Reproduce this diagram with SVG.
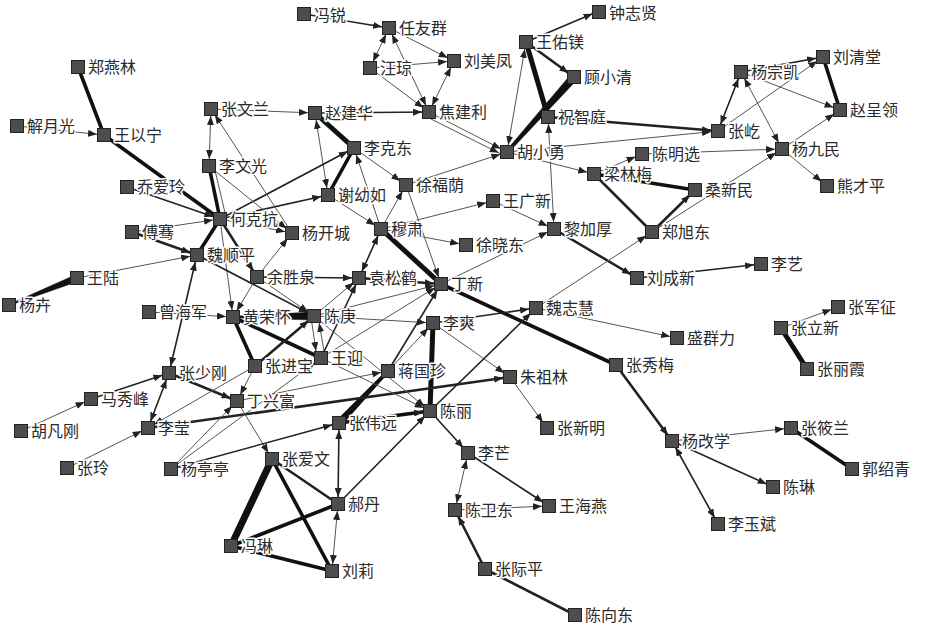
<svg xmlns="http://www.w3.org/2000/svg" width="928" height="627" viewBox="0 0 928 627">
<defs>
<marker id="a" markerUnits="userSpaceOnUse" markerWidth="9" markerHeight="7" viewBox="0 0 9 7" refX="16" refY="3.5" orient="auto-start-reverse"><path d="M0,0L9,3.5L0,7z" fill="#222"/></marker>
</defs>
<style>
.e line{stroke:#222;stroke-linecap:round}
.e polygon{fill:#111;stroke:#111;stroke-width:0.5}
.e1{stroke-width:1;stroke:#555!important}
.e2{stroke-width:1.6}
.e3{stroke-width:2.6}
.e4{stroke-width:3.6;stroke:#111!important}
.e5{stroke-width:5;stroke:#111!important}
.e6{stroke-width:7;stroke:#111!important}
.n rect{fill:#4d4d4d;stroke:#222;stroke-width:1}
.n text{font-family:"Noto Sans CJK SC","Noto Sans CJK TC",sans-serif;font-size:16px;fill:#2a2a2a;stroke:#fff;stroke-width:3px;paint-order:stroke;stroke-linejoin:round}
</style>
<rect width="928" height="627" fill="#fff"/>
<g id="connectors" class="e">
<line class="e2" x1="304" y1="14" x2="389" y2="28" marker-end="url(#a)"/>
<line class="e1" x1="370" y1="68" x2="389" y2="28" marker-start="url(#a)" marker-end="url(#a)"/>
<line class="e1" x1="389" y1="28" x2="454" y2="61" marker-end="url(#a)"/>
<line class="e1" x1="389" y1="28" x2="429" y2="112" marker-start="url(#a)" marker-end="url(#a)"/>
<line class="e1" x1="370" y1="68" x2="454" y2="61" marker-end="url(#a)"/>
<line class="e1" x1="370" y1="68" x2="429" y2="112" marker-end="url(#a)"/>
<line class="e1" x1="429" y1="112" x2="454" y2="61" marker-start="url(#a)" marker-end="url(#a)"/>
<line class="e2" x1="315" y1="113" x2="429" y2="112" marker-end="url(#a)"/>
<line class="e1" x1="429" y1="112" x2="507" y2="152" marker-end="url(#a)"/>
<line class="e1" x1="431" y1="119" x2="505" y2="156" marker-end="url(#a)"/>
<line class="e1" x1="507" y1="152" x2="526" y2="42" marker-start="url(#a)" marker-end="url(#a)"/>
<line class="e2" x1="526" y1="42" x2="599" y2="11" marker-end="url(#a)"/>
<line class="e5" x1="526" y1="42" x2="548" y2="117"/>
<line class="e3" x1="526" y1="42" x2="574" y2="77" marker-end="url(#a)"/>
<polygon points="577,79.7 508.1,153 505.9,151 571,74.3"/>
<line class="e3" x1="548" y1="117" x2="718" y2="131" marker-end="url(#a)"/>
<line class="e1" x1="507" y1="152" x2="718" y2="131" marker-end="url(#a)"/>
<line class="e1" x1="554" y1="229" x2="548" y2="117" marker-start="url(#a)" marker-end="url(#a)"/>
<line class="e1" x1="507" y1="152" x2="594" y2="174" marker-end="url(#a)"/>
<line class="e1" x1="406" y1="185" x2="507" y2="152" marker-end="url(#a)"/>
<line class="e5" x1="315" y1="113" x2="354" y2="148"/>
<line class="e1" x1="315" y1="113" x2="328" y2="195" marker-start="url(#a)" marker-end="url(#a)"/>
<line class="e1" x1="211" y1="109" x2="315" y2="113" marker-end="url(#a)"/>
<line class="e4" x1="328" y1="195" x2="354" y2="148"/>
<line class="e2" x1="220" y1="219" x2="354" y2="148" marker-end="url(#a)"/>
<line class="e2" x1="220" y1="219" x2="328" y2="195" marker-end="url(#a)"/>
<line class="e1" x1="354" y1="148" x2="406" y2="185" marker-end="url(#a)"/>
<line class="e1" x1="381" y1="229" x2="354" y2="148" marker-end="url(#a)"/>
<line class="e1" x1="328" y1="195" x2="381" y2="229" marker-end="url(#a)"/>
<line class="e1" x1="381" y1="229" x2="406" y2="185" marker-end="url(#a)"/>
<line class="e1" x1="406" y1="185" x2="441" y2="284" marker-end="url(#a)"/>
<line class="e5" x1="381" y1="229" x2="441" y2="284"/>
<line class="e1" x1="381" y1="229" x2="493" y2="201" marker-end="url(#a)"/>
<line class="e1" x1="381" y1="229" x2="466" y2="245" marker-end="url(#a)"/>
<line class="e1" x1="493" y1="201" x2="554" y2="229" marker-end="url(#a)"/>
<line class="e1" x1="441" y1="284" x2="554" y2="229" marker-end="url(#a)"/>
<line class="e3" x1="554" y1="229" x2="637" y2="278" marker-end="url(#a)"/>
<line class="e3" x1="594" y1="174" x2="652" y2="232"/>
<line class="e3" x1="652" y1="232" x2="695" y2="190" marker-end="url(#a)"/>
<line class="e1" x1="652" y1="232" x2="782" y2="149" marker-end="url(#a)"/>
<line class="e1" x1="536" y1="308" x2="652" y2="232" marker-end="url(#a)"/>
<line class="e4" x1="594" y1="174" x2="695" y2="190"/>
<line class="e1" x1="642" y1="154" x2="782" y2="149" marker-end="url(#a)"/>
<line class="e1" x1="594" y1="174" x2="642" y2="154" marker-end="url(#a)"/>
<line class="e2" x1="718" y1="131" x2="741" y2="72" marker-start="url(#a)" marker-end="url(#a)"/>
<line class="e1" x1="741" y1="72" x2="782" y2="149" marker-start="url(#a)" marker-end="url(#a)"/>
<line class="e1" x1="741" y1="72" x2="840" y2="110" marker-end="url(#a)"/>
<line class="e1" x1="718" y1="131" x2="823" y2="57" marker-end="url(#a)"/>
<line class="e2" x1="741" y1="72" x2="823" y2="57" marker-end="url(#a)"/>
<line class="e4" x1="823" y1="57" x2="840" y2="110"/>
<line class="e1" x1="782" y1="149" x2="840" y2="110" marker-end="url(#a)"/>
<line class="e1" x1="782" y1="149" x2="827" y2="186" marker-end="url(#a)"/>
<line class="e4" x1="78" y1="67" x2="104" y2="135"/>
<line class="e1" x1="17" y1="126" x2="104" y2="135" marker-end="url(#a)"/>
<line class="e4" x1="104" y1="135" x2="220" y2="219"/>
<line class="e2" x1="127" y1="187" x2="220" y2="219" marker-end="url(#a)"/>
<line class="e1" x1="211" y1="109" x2="209" y2="166" marker-start="url(#a)" marker-end="url(#a)"/>
<line class="e1" x1="292" y1="233" x2="211" y2="109" marker-end="url(#a)"/>
<line class="e4" x1="209" y1="166" x2="220" y2="219"/>
<line class="e1" x1="214" y1="166" x2="226" y2="217"/>
<line class="e1" x1="209" y1="166" x2="292" y2="233" marker-end="url(#a)"/>
<line class="e4" x1="220" y1="219" x2="197" y2="255"/>
<line class="e3" x1="220" y1="219" x2="257" y2="277" marker-end="url(#a)"/>
<line class="e1" x1="220" y1="219" x2="292" y2="233" marker-end="url(#a)"/>
<line class="e1" x1="257" y1="277" x2="292" y2="233" marker-end="url(#a)"/>
<line class="e1" x1="220" y1="219" x2="233" y2="317" marker-end="url(#a)"/>
<line class="e1" x1="132" y1="232" x2="220" y2="219" marker-end="url(#a)"/>
<line class="e3" x1="132" y1="232" x2="197" y2="255" marker-end="url(#a)"/>
<line class="e1" x1="77" y1="278" x2="197" y2="255" marker-end="url(#a)"/>
<polygon points="9.2,305.5 78.3,281.3 75.7,274.7 8.8,304.5"/>
<line class="e2" x1="197" y1="255" x2="169" y2="373" marker-start="url(#a)" marker-end="url(#a)"/>
<line class="e2" x1="197" y1="255" x2="314" y2="316" marker-end="url(#a)"/>
<line class="e1" x1="149" y1="312" x2="233" y2="317" marker-end="url(#a)"/>
<line class="e1" x1="257" y1="277" x2="233" y2="317" marker-end="url(#a)"/>
<line class="e2" x1="257" y1="277" x2="359" y2="278" marker-end="url(#a)"/>
<line class="e1" x1="257" y1="277" x2="314" y2="316" marker-end="url(#a)"/>
<polygon points="233,317.8 314,320 314,312 233,316.2"/>
<line class="e4" x1="233" y1="317" x2="255" y2="366"/>
<line class="e4" x1="233" y1="317" x2="321" y2="358"/>
<line class="e3" x1="255" y1="366" x2="314" y2="316" marker-end="url(#a)"/>
<line class="e1" x1="311" y1="317" x2="317" y2="358" marker-end="url(#a)"/>
<line class="e1" x1="325" y1="357" x2="318" y2="316" marker-end="url(#a)"/>
<line class="e2" x1="321" y1="358" x2="359" y2="278" marker-end="url(#a)"/>
<line class="e1" x1="314" y1="316" x2="359" y2="278" marker-end="url(#a)"/>
<line class="e2" x1="359" y1="278" x2="381" y2="229" marker-start="url(#a)" marker-end="url(#a)"/>
<line class="e3" x1="359" y1="278" x2="441" y2="284" marker-end="url(#a)"/>
<line class="e1" x1="314" y1="316" x2="441" y2="284" marker-end="url(#a)"/>
<line class="e1" x1="321" y1="358" x2="441" y2="284" marker-end="url(#a)"/>
<line class="e1" x1="314" y1="316" x2="433" y2="323" marker-end="url(#a)"/>
<line class="e2" x1="388" y1="371" x2="441" y2="284" marker-end="url(#a)"/>
<line class="e4" x1="441" y1="284" x2="616" y2="365"/>
<line class="e5" x1="433" y1="323" x2="430" y2="411"/>
<line class="e2" x1="433" y1="323" x2="536" y2="308" marker-end="url(#a)"/>
<line class="e1" x1="433" y1="323" x2="510" y2="377" marker-end="url(#a)"/>
<line class="e1" x1="388" y1="371" x2="433" y2="323" marker-end="url(#a)"/>
<line class="e2" x1="430" y1="411" x2="536" y2="308" marker-end="url(#a)"/>
<line class="e1" x1="536" y1="308" x2="677" y2="338" marker-end="url(#a)"/>
<polygon points="389.1,372 341.5,425.4 336.5,420.6 386.9,370"/>
<line class="e4" x1="339" y1="423" x2="430" y2="411" marker-end="url(#a)"/>
<line class="e2" x1="338" y1="504" x2="430" y2="411" marker-end="url(#a)"/>
<line class="e2" x1="339" y1="423" x2="338" y2="504" marker-start="url(#a)" marker-end="url(#a)"/>
<line class="e1" x1="338" y1="504" x2="332" y2="571" marker-start="url(#a)" marker-end="url(#a)"/>
<line class="e3" x1="272" y1="459" x2="338" y2="504"/>
<line class="e4" x1="272" y1="459" x2="332" y2="571"/>
<line class="e6" x1="272" y1="459" x2="231" y2="546"/>
<line class="e4" x1="338" y1="504" x2="231" y2="546"/>
<line class="e4" x1="231" y1="546" x2="332" y2="571"/>
<line class="e1" x1="237" y1="401" x2="272" y2="459" marker-end="url(#a)"/>
<line class="e2" x1="171" y1="469" x2="339" y2="423" marker-start="url(#a)" marker-end="url(#a)"/>
<line class="e3" x1="148" y1="428" x2="510" y2="377" marker-end="url(#a)"/>
<line class="e1" x1="237" y1="401" x2="388" y2="371" marker-end="url(#a)"/>
<line class="e3" x1="169" y1="373" x2="237" y2="401" marker-end="url(#a)"/>
<line class="e2" x1="91" y1="399" x2="169" y2="373" marker-end="url(#a)"/>
<line class="e1" x1="21" y1="431" x2="91" y2="399" marker-end="url(#a)"/>
<line class="e2" x1="169" y1="373" x2="148" y2="428" marker-start="url(#a)" marker-end="url(#a)"/>
<line class="e1" x1="67" y1="468" x2="148" y2="428" marker-end="url(#a)"/>
<line class="e1" x1="171" y1="469" x2="237" y2="401" marker-end="url(#a)"/>
<line class="e1" x1="171" y1="469" x2="321" y2="358" marker-end="url(#a)"/>
<line class="e1" x1="255" y1="366" x2="148" y2="428" marker-end="url(#a)"/>
<line class="e1" x1="255" y1="366" x2="237" y2="401" marker-end="url(#a)"/>
<line class="e1" x1="321" y1="358" x2="430" y2="411" marker-end="url(#a)"/>
<line class="e1" x1="314" y1="316" x2="430" y2="411" marker-end="url(#a)"/>
<line class="e2" x1="430" y1="411" x2="468" y2="453" marker-end="url(#a)"/>
<line class="e1" x1="455" y1="510" x2="468" y2="453" marker-start="url(#a)" marker-end="url(#a)"/>
<line class="e2" x1="468" y1="453" x2="549" y2="506" marker-end="url(#a)"/>
<line class="e1" x1="455" y1="510" x2="549" y2="506" marker-end="url(#a)"/>
<line class="e3" x1="485" y1="569" x2="455" y2="510" marker-end="url(#a)"/>
<line class="e3" x1="485" y1="569" x2="575" y2="615"/>
<line class="e1" x1="510" y1="377" x2="547" y2="428" marker-end="url(#a)"/>
<line class="e3" x1="616" y1="365" x2="672" y2="441" marker-end="url(#a)"/>
<line class="e1" x1="672" y1="441" x2="791" y2="428" marker-end="url(#a)"/>
<line class="e2" x1="672" y1="441" x2="773" y2="487" marker-end="url(#a)"/>
<line class="e2" x1="672" y1="441" x2="718" y2="524" marker-start="url(#a)" marker-end="url(#a)"/>
<line class="e4" x1="791" y1="428" x2="852" y2="469"/>
<line class="e1" x1="781" y1="328" x2="838" y2="307" marker-end="url(#a)"/>
<line class="e5" x1="781" y1="328" x2="807" y2="369"/>
<line class="e2" x1="637" y1="278" x2="761" y2="264" marker-end="url(#a)"/>
</g>
<g class="n">
<g id="n-fengrui"><rect x="297.5" y="7.5" width="13" height="13"/><text x="314" y="21">冯锐</text></g>
<g id="n-renyouqun"><rect x="382.5" y="21.5" width="13" height="13"/><text x="399" y="34">任友群</text></g>
<g id="n-zhongzhixian"><rect x="592.5" y="5.5" width="13" height="13"/><text x="609" y="19">钟志贤</text></g>
<g id="n-wangqiong"><rect x="363.5" y="61.5" width="13" height="13"/><text x="380" y="74">汪琼</text></g>
<g id="n-liumeifeng"><rect x="447.5" y="54.5" width="13" height="13"/><text x="464" y="67">刘美凤</text></g>
<g id="n-wangyoumei"><rect x="519.5" y="35.5" width="13" height="13"/><text x="536" y="48">王佑镁</text></g>
<g id="n-guxiaoqing"><rect x="567.5" y="70.5" width="13" height="13"/><text x="584" y="83">顾小清</text></g>
<g id="n-zhengyanlin"><rect x="71.5" y="60.5" width="13" height="13"/><text x="88" y="73">郑燕林</text></g>
<g id="n-yangzongkai"><rect x="734.5" y="65.5" width="13" height="13"/><text x="751" y="78">杨宗凯</text></g>
<g id="n-liuqingtang"><rect x="816.5" y="50.5" width="13" height="13"/><text x="833" y="63">刘清堂</text></g>
<g id="n-zhaochengling"><rect x="833.5" y="103.5" width="13" height="13"/><text x="850" y="116">赵呈领</text></g>
<g id="n-xieyueguang"><rect x="10.5" y="119.5" width="13" height="13"/><text x="27" y="132">解月光</text></g>
<g id="n-wangyining"><rect x="97.5" y="128.5" width="13" height="13"/><text x="114" y="141">王以宁</text></g>
<g id="n-zhangwenlan"><rect x="204.5" y="102.5" width="13" height="13"/><text x="221" y="115">张文兰</text></g>
<g id="n-zhaojianhua"><rect x="308.5" y="106.5" width="13" height="13"/><text x="325" y="119">赵建华</text></g>
<g id="n-jiaojianli"><rect x="422.5" y="105.5" width="13" height="13"/><text x="439" y="118">焦建利</text></g>
<g id="n-zhuzhiting"><rect x="541.5" y="110.5" width="13" height="13"/><text x="558" y="123">祝智庭</text></g>
<g id="n-huxiaoyong"><rect x="500.5" y="145.5" width="13" height="13"/><text x="517" y="158">胡小勇</text></g>
<g id="n-zhangyi"><rect x="711.5" y="124.5" width="13" height="13"/><text x="728" y="137">张屹</text></g>
<g id="n-likedong"><rect x="347.5" y="141.5" width="13" height="13"/><text x="364" y="154">李克东</text></g>
<g id="n-yangjiumin"><rect x="775.5" y="142.5" width="13" height="13"/><text x="792" y="155">杨九民</text></g>
<g id="n-chenmingxuan"><rect x="635.5" y="147.5" width="13" height="13"/><text x="652" y="160">陈明选</text></g>
<g id="n-liwenguang"><rect x="202.5" y="159.5" width="13" height="13"/><text x="219" y="172">李文光</text></g>
<g id="n-lianglinmei"><rect x="587.5" y="167.5" width="13" height="13"/><text x="604" y="180">梁林梅</text></g>
<g id="n-sangxinmin"><rect x="688.5" y="183.5" width="13" height="13"/><text x="705" y="196">桑新民</text></g>
<g id="n-xiongcaiping"><rect x="820.5" y="179.5" width="13" height="13"/><text x="837" y="192">熊才平</text></g>
<g id="n-qiaoailing"><rect x="120.5" y="180.5" width="13" height="13"/><text x="137" y="193">乔爱玲</text></g>
<g id="n-xieyouru"><rect x="321.5" y="188.5" width="13" height="13"/><text x="338" y="201">谢幼如</text></g>
<g id="n-xufuyin"><rect x="399.5" y="178.5" width="13" height="13"/><text x="416" y="191">徐福荫</text></g>
<g id="n-hekekang"><rect x="213.5" y="212.5" width="13" height="13"/><text x="230" y="225">何克抗</text></g>
<g id="n-wangguangxin"><rect x="486.5" y="194.5" width="13" height="13"/><text x="503" y="207">王广新</text></g>
<g id="n-fuqian"><rect x="125.5" y="225.5" width="13" height="13"/><text x="142" y="238">傅骞</text></g>
<g id="n-yangkaicheng"><rect x="285.5" y="226.5" width="13" height="13"/><text x="302" y="239">杨开城</text></g>
<g id="n-musu"><rect x="374.5" y="222.5" width="13" height="13"/><text x="391" y="235">穆肃</text></g>
<g id="n-lijiahou"><rect x="547.5" y="222.5" width="13" height="13"/><text x="564" y="235">黎加厚</text></g>
<g id="n-zhengxudong"><rect x="645.5" y="225.5" width="13" height="13"/><text x="662" y="238">郑旭东</text></g>
<g id="n-weishunping"><rect x="190.5" y="248.5" width="13" height="13"/><text x="207" y="261">魏顺平</text></g>
<g id="n-xuxiaodong"><rect x="459.5" y="238.5" width="13" height="13"/><text x="476" y="251">徐晓东</text></g>
<g id="n-wanglu"><rect x="70.5" y="271.5" width="13" height="13"/><text x="87" y="284">王陆</text></g>
<g id="n-yushengquan"><rect x="250.5" y="270.5" width="13" height="13"/><text x="267" y="283">余胜泉</text></g>
<g id="n-yuansonghe"><rect x="352.5" y="271.5" width="13" height="13"/><text x="369" y="284">袁松鹤</text></g>
<g id="n-dingxin"><rect x="434.5" y="277.5" width="13" height="13"/><text x="451" y="290">丁新</text></g>
<g id="n-liuchengxin"><rect x="630.5" y="271.5" width="13" height="13"/><text x="647" y="284">刘成新</text></g>
<g id="n-liyi"><rect x="754.5" y="257.5" width="13" height="13"/><text x="771" y="270">李艺</text></g>
<g id="n-yanghui"><rect x="2.5" y="298.5" width="13" height="13"/><text x="19" y="311">杨卉</text></g>
<g id="n-zhangjunzheng"><rect x="831.5" y="300.5" width="13" height="13"/><text x="848" y="313">张军征</text></g>
<g id="n-zenghaijun"><rect x="142.5" y="305.5" width="13" height="13"/><text x="159" y="318">曾海军</text></g>
<g id="n-huangronghuai"><rect x="226.5" y="310.5" width="13" height="13"/><text x="243" y="323">黄荣怀</text></g>
<g id="n-chengeng"><rect x="307.5" y="309.5" width="13" height="13"/><text x="324" y="322">陈庚</text></g>
<g id="n-weizhihui"><rect x="529.5" y="301.5" width="13" height="13"/><text x="546" y="314">魏志慧</text></g>
<g id="n-lishuang"><rect x="426.5" y="316.5" width="13" height="13"/><text x="443" y="329">李爽</text></g>
<g id="n-zhanglixin"><rect x="774.5" y="321.5" width="13" height="13"/><text x="791" y="334">张立新</text></g>
<g id="n-shengqunli"><rect x="670.5" y="331.5" width="13" height="13"/><text x="687" y="344">盛群力</text></g>
<g id="n-wangying"><rect x="314.5" y="351.5" width="13" height="13"/><text x="331" y="364">王迎</text></g>
<g id="n-zhangjinbao"><rect x="248.5" y="359.5" width="13" height="13"/><text x="265" y="372">张进宝</text></g>
<g id="n-jiangguozhen"><rect x="381.5" y="364.5" width="13" height="13"/><text x="398" y="377">蒋国珍</text></g>
<g id="n-zhangxiumei"><rect x="609.5" y="358.5" width="13" height="13"/><text x="626" y="371">张秀梅</text></g>
<g id="n-zhanglixia"><rect x="800.5" y="362.5" width="13" height="13"/><text x="817" y="375">张丽霞</text></g>
<g id="n-zhangshaogang"><rect x="162.5" y="366.5" width="13" height="13"/><text x="179" y="379">张少刚</text></g>
<g id="n-zhuzulin"><rect x="503.5" y="370.5" width="13" height="13"/><text x="520" y="383">朱祖林</text></g>
<g id="n-maxiufeng"><rect x="84.5" y="392.5" width="13" height="13"/><text x="101" y="405">马秀峰</text></g>
<g id="n-dingxingfu"><rect x="230.5" y="394.5" width="13" height="13"/><text x="247" y="407">丁兴富</text></g>
<g id="n-chenli"><rect x="423.5" y="404.5" width="13" height="13"/><text x="440" y="417">陈丽</text></g>
<g id="n-zhangweiyuan"><rect x="332.5" y="416.5" width="13" height="13"/><text x="349" y="429">张伟远</text></g>
<g id="n-liying"><rect x="141.5" y="421.5" width="13" height="13"/><text x="158" y="434">李莹</text></g>
<g id="n-hufangang"><rect x="14.5" y="424.5" width="13" height="13"/><text x="31" y="437">胡凡刚</text></g>
<g id="n-zhangxinming"><rect x="540.5" y="421.5" width="13" height="13"/><text x="557" y="434">张新明</text></g>
<g id="n-yanggaixue"><rect x="665.5" y="434.5" width="13" height="13"/><text x="682" y="447">杨改学</text></g>
<g id="n-zhangxiaolan"><rect x="784.5" y="421.5" width="13" height="13"/><text x="801" y="434">张筱兰</text></g>
<g id="n-zhangling"><rect x="60.5" y="461.5" width="13" height="13"/><text x="77" y="474">张玲</text></g>
<g id="n-yangtingting"><rect x="164.5" y="462.5" width="13" height="13"/><text x="181" y="475">杨亭亭</text></g>
<g id="n-zhangaiwen"><rect x="265.5" y="452.5" width="13" height="13"/><text x="282" y="465">张爱文</text></g>
<g id="n-limang"><rect x="461.5" y="446.5" width="13" height="13"/><text x="478" y="459">李芒</text></g>
<g id="n-guoshaoqing"><rect x="845.5" y="462.5" width="13" height="13"/><text x="862" y="475">郭绍青</text></g>
<g id="n-haodan"><rect x="331.5" y="497.5" width="13" height="13"/><text x="348" y="510">郝丹</text></g>
<g id="n-chenlin2"><rect x="766.5" y="480.5" width="13" height="13"/><text x="783" y="493">陈琳</text></g>
<g id="n-chenweidong"><rect x="448.5" y="503.5" width="13" height="13"/><text x="465" y="516">陈卫东</text></g>
<g id="n-wanghaiyan"><rect x="542.5" y="499.5" width="13" height="13"/><text x="559" y="512">王海燕</text></g>
<g id="n-liyubin"><rect x="711.5" y="517.5" width="13" height="13"/><text x="728" y="530">李玉斌</text></g>
<g id="n-fenglin"><rect x="224.5" y="539.5" width="13" height="13"/><text x="241" y="552">冯琳</text></g>
<g id="n-liuli"><rect x="325.5" y="564.5" width="13" height="13"/><text x="342" y="577">刘莉</text></g>
<g id="n-zhangjiping"><rect x="478.5" y="562.5" width="13" height="13"/><text x="495" y="575">张际平</text></g>
<g id="n-chenxiangdong"><rect x="568.5" y="608.5" width="13" height="13"/><text x="585" y="621">陈向东</text></g>
</g>
</svg>
